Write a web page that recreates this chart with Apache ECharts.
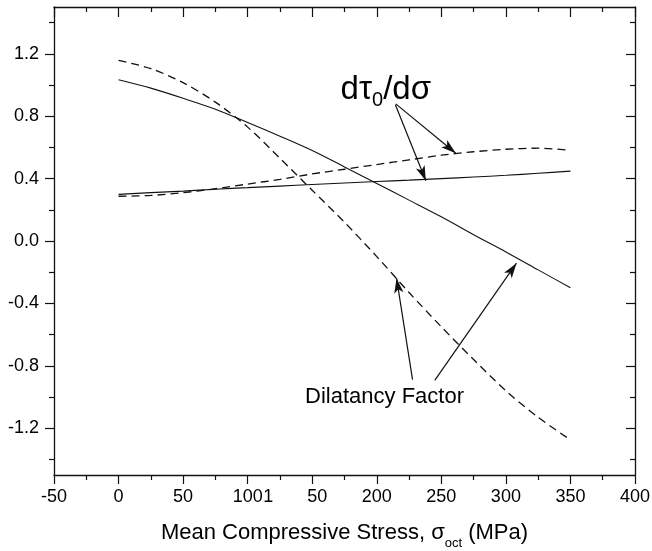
<!DOCTYPE html>
<html><head><meta charset="utf-8">
<script src="https://cdn.jsdelivr.net/npm/echarts@6/dist/echarts.min.js"></script>
<style>html,body{margin:0;padding:0;background:#fff}#c{width:652px;height:551px}</style>
</head><body><div id="c"></div>
<script>
// ---- data ----
const xValues = [0, 25, 50, 75, 100, 125, 150, 175, 200, 225, 250, 275, 300, 325, 350];
const dilatancySolid  = [1.034, 0.98, 0.915, 0.845, 0.76, 0.672, 0.58, 0.475, 0.368, 0.262, 0.155, 0.04, -0.07, -0.185, -0.30];
const dilatancyDashed = [1.158, 1.105, 1.015, 0.89, 0.73, 0.53, 0.325, 0.12, -0.10, -0.33, -0.55, -0.76, -0.96, -1.13, -1.275];
const slopeSolid      = [0.299, 0.31, 0.32, 0.332, 0.342, 0.352, 0.362, 0.372, 0.381, 0.39, 0.40, 0.41, 0.421, 0.434, 0.448];
const slopeDashed     = [0.287, 0.292, 0.31, 0.335, 0.365, 0.395, 0.43, 0.46, 0.49, 0.52, 0.55, 0.572, 0.588, 0.595, 0.582];

const xTickValues = [-50, 0, 50, 100, 150, 200, 250, 300, 350, 400];
const xTickLabels = ['-50', '0', '50', '100', '150', '200', '250', '300', '350', '400'];
const xMinorTicks = [-25, 25, 75, 125, 175, 225, 275, 325, 375];
const yTickValues = [-1.2, -0.8, -0.4, 0, 0.4, 0.8, 1.2];
const yTickLabels = ['-1.2', '-0.8', '-0.4', '0.0', '0.4', '0.8', '1.2'];
const yMinorTicks = [-1.4, -1.0, -0.6, -0.2, 0.2, 0.6, 1.0, 1.4];

const xAxisTitle = 'Mean Compressive Stress, ';
const xAxisSymbol = 'σ';
const xAxisSub = 'oct';
const xAxisUnit = ' (MPa)';

// annotations (data coordinates)
const slopeLabel = { x: 207, y: 0.97, parts: ['dτ', '0', '/dσ'] };
const dilatancyLabel = { x: 206, y: -1.0, text: 'Dilatancy Factor' };
const arrowStarts = [[214.4, 0.873], [214.7, 0.879], [227.7, -0.889], [244.9, -0.894]];
const arrowEnds   = [[238.0, 0.386], [261.2, 0.563], [215.3, -0.238], [308.2, -0.142]];

// ---- chart ----
const FONT = 'Liberation Sans, Arial, Helvetica, sans-serif';
const INK = '#111';
const xMin = -50, xMax = 400, yMin = -1.5, yMax = 1.5;

function pair(arr) { return xValues.map((x, i) => [x, arr[i]]); }

function xAx(position, ticks, len, inside, labels, line) {
  return {
    type: 'value', position, min: xMin, max: xMax, gridIndex: 0,
    axisLine: { show: line, onZero: false, lineStyle: { color: INK, width: 1.3 } },
    axisTick: { show: true, customValues: ticks, length: len, inside, lineStyle: { color: INK, width: 1.2 } },
    axisLabel: labels ? {
      show: true, customValues: xTickValues, margin: 13, color: '#000', fontFamily: FONT, fontSize: 18,
      formatter: (v) => {
        const i = xTickValues.indexOf(v);
        const s = i >= 0 ? xTickLabels[i] : '';
        if (v === 150) return '{a|' + s.slice(0, 1) + '}{g| }{a|' + s.slice(1) + '}{g| }';
        return s;
      },
      rich: { a: { fontFamily: FONT, fontSize: 18, color: '#000' }, g: { width: 34, fontSize: 18 } }
    } : { show: false },
    splitLine: { show: false },
    name: labels && position === 'bottom' ? xAxisTitle + '{s|' + xAxisSymbol + '}{sub|' + xAxisSub + '}' + xAxisUnit : '',
    nameLocation: 'middle', nameGap: 47,
    nameTextStyle: {
      fontFamily: FONT, fontSize: 22, color: '#000', lineHeight: 22,
      rich: {
        s: { fontFamily: FONT, fontSize: 22, color: '#000', lineHeight: 22 },
        sub: { fontFamily: FONT, fontSize: 13, color: '#000', lineHeight: 13, padding: [20, 0, 0, 0] }
      }
    }
  };
}
function yAx(position, ticks, len, inside, labels, line) {
  return {
    type: 'value', position, min: yMin, max: yMax, gridIndex: 0,
    axisLine: { show: line, onZero: false, lineStyle: { color: INK, width: 1.3 } },
    axisTick: { show: true, customValues: ticks, length: len, inside, lineStyle: { color: INK, width: 1.2 } },
    axisLabel: labels ? {
      show: true, customValues: yTickValues, margin: 15, color: '#000', fontFamily: FONT, fontSize: 18,
      formatter: (v) => {
        let idx = -1;
        yTickValues.forEach((t, i) => { if (Math.abs(t - v) < 1e-6) idx = i; });
        return idx >= 0 ? yTickLabels[idx] : '';
      }
    } : { show: false },
    splitLine: { show: false }
  };
}

const lineBase = { type: 'line', showSymbol: false, symbol: 'none', smooth: 0.3, silent: true, xAxisIndex: 0, yAxisIndex: 0 };

const arrowData = arrowStarts.map((s, i) => [
  { coord: s, symbol: 'none' },
  { coord: arrowEnds[i], symbol: 'arrow', symbolSize: [7, 15] }
]);

const option = {
  animation: false,
  backgroundColor: '#fff',
  grid: { left: 54, right: 17, top: 7, bottom: 76, containLabel: false, outerBoundsMode: 'none' },
  xAxis: [
    xAx('bottom', xTickValues, 9, false, true, true),
    xAx('bottom', xMinorTicks, 5, false, false, false),
    xAx('top', xTickValues, 10, true, false, true),
    xAx('top', xMinorTicks, 5, true, false, false)
  ],
  yAxis: [
    yAx('left', yTickValues, 9, false, true, true),
    yAx('left', yMinorTicks, 5, false, false, false),
    yAx('right', yTickValues, 9, true, false, true),
    yAx('right', yMinorTicks, 5, true, false, false)
  ],
  series: [
    Object.assign({}, lineBase, { name: 'Dilatancy (solid)', data: pair(dilatancySolid), lineStyle: { color: INK, width: 1.1 } }),
    Object.assign({}, lineBase, { name: 'Dilatancy (dashed)', data: pair(dilatancyDashed), lineStyle: { color: INK, width: 1.3, type: [8, 5] } }),
    Object.assign({}, lineBase, { name: 'Slope (solid)', data: pair(slopeSolid), lineStyle: { color: INK, width: 1.1 } }),
    Object.assign({}, lineBase, { name: 'Slope (dashed)', data: pair(slopeDashed), lineStyle: { color: INK, width: 1.3, type: [8, 5] },
      markLine: {
        silent: true, animation: false,
        symbol: ['none', 'arrow'],
        label: { show: false },
        lineStyle: { color: INK, width: 1.2, type: 'solid' },
        emphasis: { disabled: true },
        data: arrowData
      }
    }),
    {
      type: 'scatter', silent: true, symbolSize: 0, xAxisIndex: 0, yAxisIndex: 0,
      itemStyle: { color: '#000', opacity: 1 },
      data: [
        { value: [slopeLabel.x, slopeLabel.y], label: {
          show: true, position: 'inside', textBorderWidth: 0,
          formatter: '{t|' + slopeLabel.parts[0] + '}{s|' + slopeLabel.parts[1] + '}{t|' + slopeLabel.parts[2] + '}',
          rich: {
            t: { fontFamily: FONT, fontSize: 33, color: '#000', lineHeight: 33, textBorderWidth: 0 },
            s: { fontFamily: FONT, fontSize: 20, color: '#000', lineHeight: 20, padding: [22, 0, 0, 0], textBorderWidth: 0 }
          }
        } },
        { value: [dilatancyLabel.x, dilatancyLabel.y], label: {
          show: true, position: 'inside', formatter: dilatancyLabel.text, textBorderWidth: 0,
          fontFamily: FONT, fontSize: 22, color: '#000'
        } }
      ]
    }
  ]
};

const chart = echarts.init(document.getElementById('c'), null, { renderer: 'canvas' });
chart.setOption(option);
</script>
</body></html>
